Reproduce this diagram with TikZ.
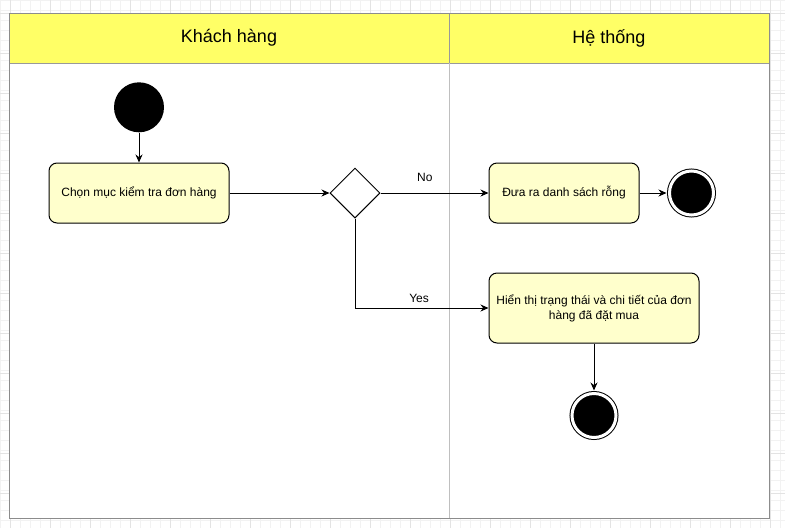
\documentclass[tikz,border=0pt]{standalone}
\usepackage{fontspec}
\setmainfont{Liberation Sans}
\usetikzlibrary{positioning,shapes.geometric,arrows.meta,backgrounds}

\definecolor{headfill}{HTML}{FFFF66}
\definecolor{actfill}{HTML}{FFFFCC}
\definecolor{gridminor}{HTML}{F2F2F2}
\definecolor{gridmajor}{HTML}{E3E3E3}

\begin{document}
\begin{tikzpicture}[x=1pt,y=-1pt,
        lanehead/.style={draw=gray!80, line width=0.9pt, fill=headfill, minimum height=50pt, font=\fontsize{18}{21}\selectfont},% swimlane titles
        action/.style={draw, line width=1pt, rounded corners=8pt, fill=actfill, minimum height=60pt, inner sep=4pt,
                align=center, font=\fontsize{12}{15}\selectfont},
        startnode/.style={circle, fill=black, minimum size=50pt, inner sep=0pt},
        endnode/.style={circle, draw, fill=black, double=white, double distance=3pt, line width=1pt,
                minimum size=44pt, inner sep=0pt, outer sep=3pt},
        choice/.style={diamond, draw, line width=1pt, fill=white, minimum width=50pt, minimum height=50pt, inner sep=0pt},
        flow/.style={-{Stealth[length=8pt,width=7pt]}, line width=1pt},
        guard/.style={font=\fontsize{12}{15}\selectfont, inner sep=2pt}]
\useasboundingbox (0,0) rectangle (785,528);

% background grid of the canvas
\draw[gridminor, line width=0.6pt] (0,0) grid[step=10pt] (785,528);
\foreach \x in {10,50,...,770}{ \draw[gridmajor, line width=0.6pt] (\x,0) -- (\x,528); }
\foreach \y in {13,53,...,528}{ \draw[gridmajor, line width=0.6pt] (0,\y) -- (785,\y); }

% swimlanes
\fill[white] (9,13) rectangle (769,518);
\node[lanehead, minimum width=440pt] (khach) at (229,38) {Khách hàng};
\node[lanehead, minimum width=320pt] (hethong) at (609,38) {Hệ thống};
\draw[gray!50, line width=0.9pt] (449,63) -- (449,518);
\draw[gray!90, line width=1pt] (9,13) rectangle (769,518);

% activities
\node[action, minimum width=180pt] (chon) at (139,193) {Chọn mục kiểm tra đơn hàng};
\node[startnode, above=30pt of chon] (start) {};
\node[choice] (check) at (355,193) {};
\node[action, minimum width=150pt] (rong) at (564,193) {Đưa ra danh sách rỗng};
\node[endnode, right=27pt of rong] (endA) {};
\node[action, minimum width=210pt, minimum height=70pt] (hien) at (594,308) {Hiển thị trạng thái và chi tiết của đơn\\hàng đã đặt mua};
\node[endnode, below=47pt of hien] (endB) {};

% connectors
\draw[flow] (start) -- (chon);
\draw[flow] (chon) -- (check);
\draw[flow] (check) -- node[guard, pos=0.41, above=9pt] {No} (rong);
\draw[flow] (check.south) |- node[guard, pos=0.74, above=3pt] {Yes} (hien);
\draw[flow] (rong) -- (endA);
\draw[flow] (hien) -- (endB);

\end{tikzpicture}
\end{document}
